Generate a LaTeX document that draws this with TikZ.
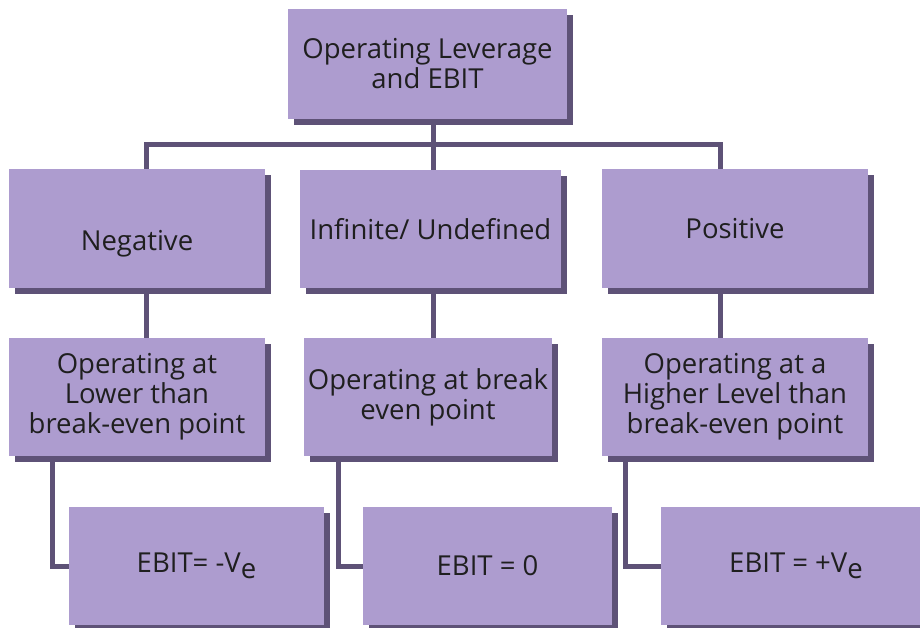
\documentclass[tikz,border=0pt]{standalone}
\usepackage{fontspec}
\setmainfont{Open Sans}
\usetikzlibrary{shadows}
\definecolor{boxfill}{HTML}{AD9CCF}
\definecolor{boxshade}{HTML}{5E5277}
\begin{document}
\begin{tikzpicture}[x=1pt,y=-1pt,
	box/.style={fill=boxfill,text=black!88,align=center,inner sep=0pt,
		font=\fontsize{27.5}{30}\selectfont,
		drop shadow={shadow xshift=6pt,shadow yshift=-6pt,fill=boxshade,opacity=1}},
	link/.style={draw=boxshade,line width=5pt}]
		\useasboundingbox (0,0) rectangle (920,628);
		\clip (0,0) rectangle (920,628);
		\node[box,minimum width=279pt,minimum height=110pt] (top) at (427.5,64) {Operating Leverage\\and EBIT};
		\node[box,minimum width=256pt,minimum height=119pt] (neg) at (137,228.5) {\rule{0pt}{50pt}Negative};
		\node[box,minimum width=261pt,minimum height=118pt] (inf) at (430.5,229) {Infinite/ Undefined};
		\node[box,minimum width=266pt,minimum height=119pt] (pos) at (735,228.5) {Positive};
		\node[box,minimum width=256pt,minimum height=118pt] (lower) at (137,397) {Operating at\\Lower than\\break-even point};
		\node[box,minimum width=248pt,minimum height=118pt] (even) at (428,397) {Operating at break\\even point};
		\node[box,minimum width=266pt,minimum height=118pt] (higher) at (735,397) {Operating at a\\Higher Level than\\break-even point};
		\node[box,minimum width=255pt,minimum height=118pt] (ebitneg) at (196.5,566) {EBIT= -V\raisebox{-6pt}{e}};
		\node[box,minimum width=249pt,minimum height=118pt] (ebitzero) at (487.5,566) {EBIT = 0};
		\node[box,minimum width=270pt,minimum height=118pt] (ebitpos) at (796,566) {EBIT = +V\raisebox{-6pt}{e}};
		\coordinate (c1) at (146,0);
		\coordinate (c2) at (433,0);
		\coordinate (c3) at (720,0);
		\coordinate (bus) at (433,145);
		\foreach \X in {52,338,625}
			{\coordinate (d\X) at (\X,0);}
		\draw[link] (top.south -| c2) -- (inf.north -| c2);
		\draw[link] (neg.north -| c1) |- (bus) -| (pos.north -| c3);
		\draw[link] (neg.south -| c1) -- (lower.north -| c1);
		\draw[link] (inf.south -| c2) -- (even.north -| c2);
		\draw[link] (pos.south -| c3) -- (higher.north -| c3);
		\draw[link] (lower.south -| d52) |- (ebitneg.west);
		\draw[link] (even.south -| d338) |- (ebitzero.west);
		\draw[link] (higher.south -| d625) |- (ebitpos.west);
	   \end{tikzpicture}
\end{document}
